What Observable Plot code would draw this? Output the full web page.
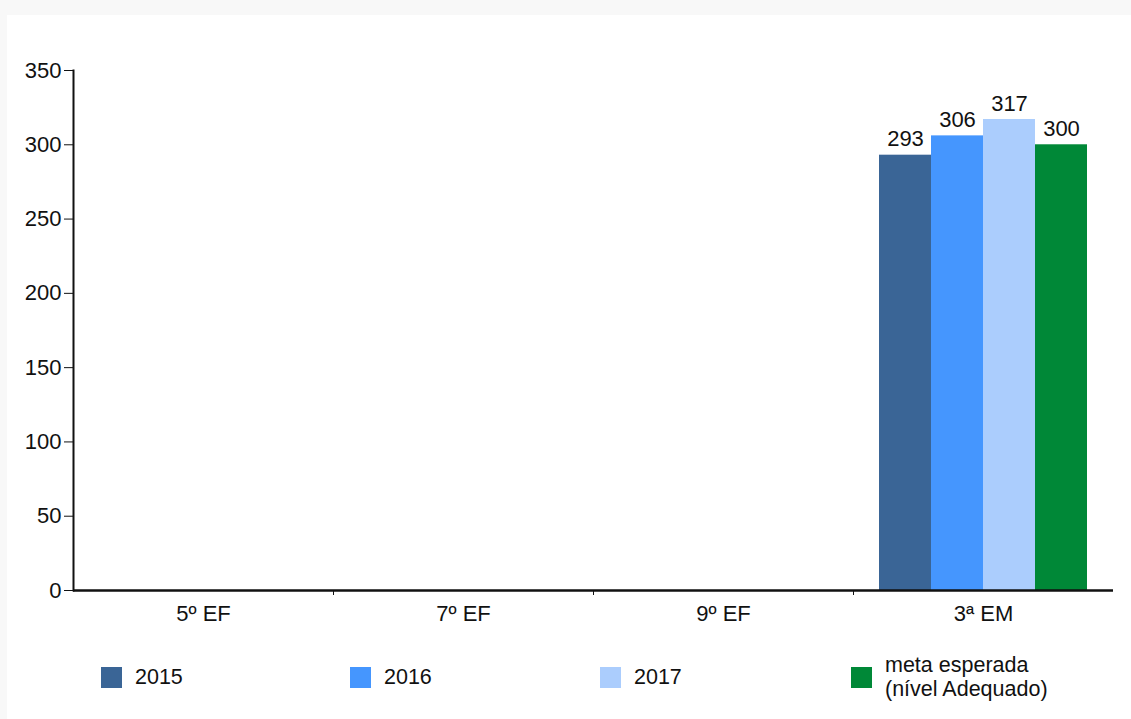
<!DOCTYPE html>
<html>
<head>
<meta charset="utf-8">
<script src="https://cdn.jsdelivr.net/npm/d3@7"></script>
<script src="https://cdn.jsdelivr.net/npm/@observablehq/plot@0.6"></script>
<style>
  html, body { margin: 0; padding: 0; background: #f8f8f8; overflow: hidden; }
  body { width: 1131px; height: 719px; position: relative; font-family: Arial, "Liberation Sans", sans-serif; }
  #panel { position: absolute; left: 7px; top: 15px; width: 1124px; height: 704px; background: #ffffff; }
  #chart { position: absolute; left: 0; top: 0; }
  .item { position: absolute; top: 638px; height: 48px; display: flex; align-items: center; font-size: 21.5px; color: #111; line-height: 24px; }
  .sw { width: 21px; height: 21px; margin-right: 13px; flex: none; }
</style>
</head>
<body>
<div id="panel">
  <div id="chart"></div>
  <div id="legend"></div>
</div>
<script>
const categories = ["5º EF", "7º EF", "9º EF", "3ª EM"];
const seriesNames = ["2015", "2016", "2017", "meta esperada"];
const legendLabels = ["2015", "2016", "2017", "meta esperada<br>(nível Adequado)"];
const seriesColors = ["#3a6596", "#4596fe", "#abcdfd", "#008837"];
const values2015 = [null, null, null, 293];
const values2016 = [null, null, null, 306];
const values2017 = [null, null, null, 317];
const valuesMeta = [null, null, null, 300];
const yTicks = [0, 50, 100, 150, 200, 250, 300, 350];

const seriesValues = [values2015, values2016, values2017, valuesMeta];
const data = [];
categories.forEach((c, i) => {
  seriesNames.forEach((s, j) => {
    data.push({grade: c, series: s, value: seriesValues[j][i]});
  });
});

const W = 1124, mL = 66, mR = 18;
const facetStep = (W - mL - mR) / categories.length;
const FS = 22;

const chart = Plot.plot({
  width: W,
  height: 615,
  marginLeft: mL,
  marginRight: mR,
  marginTop: 55,
  marginBottom: 40,
  style: {fontFamily: "Arial, 'Liberation Sans', sans-serif", fontSize: FS + "px", color: "#111", background: "transparent"},
  fx: {domain: categories, padding: 0, label: null},
  x: {domain: seriesNames, paddingInner: 0, paddingOuter: 0.5, axis: null},
  y: {domain: [0, 350], label: null},
  color: {domain: seriesNames, range: seriesColors},
  marks: [
    Plot.barY(data, {fx: "grade", x: "series", y: "value", fill: "series"}),
    Plot.text(data, {fx: "grade", x: "series", y: "value", text: d => d.value == null ? null : String(d.value), lineAnchor: "bottom", dy: -9, fontSize: FS, fill: "#111"}),
    Plot.ruleY([0], {stroke: "#111", strokeWidth: 2.5}),
    Plot.frame({anchor: "left", facetAnchor: "left", stroke: "#111", strokeWidth: 2}),
    Plot.axisY({ticks: yTicks, tickSize: 9, tickPadding: 3, fontSize: FS, stroke: "#111", label: null}),
    Plot.axisFx({anchor: "bottom", tickSize: 0, tickPadding: 15, fontSize: FS, label: null}),
    Plot.axisFx({anchor: "bottom", ticks: categories.slice(1), tickSize: 5, tickFormat: () => "", dx: -facetStep / 2, label: null, stroke: "#111"})
  ]
});
document.getElementById("chart").appendChild(chart);

const legendLefts = [94, 343, 593, 844];
const legend = document.getElementById("legend");
seriesNames.forEach((s, i) => {
  const it = document.createElement("div");
  it.className = "item";
  it.style.left = legendLefts[i] + "px";
  it.innerHTML = `<div class="sw" style="background:${seriesColors[i]}"></div><div>${legendLabels[i]}</div>`;
  legend.appendChild(it);
});
</script>
</body>
</html>
